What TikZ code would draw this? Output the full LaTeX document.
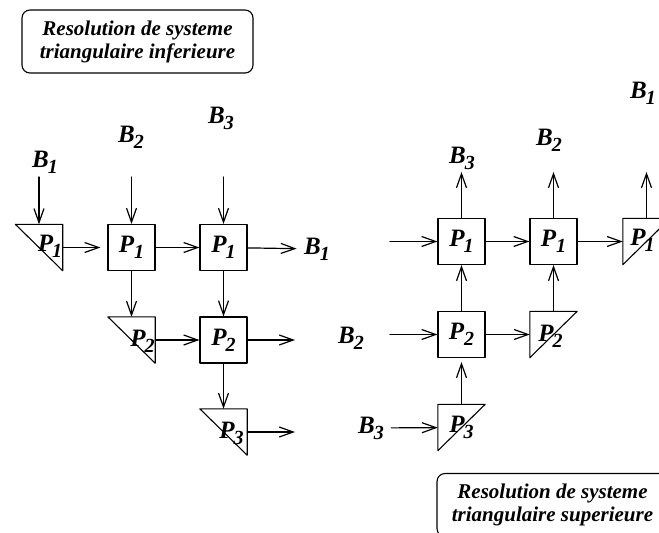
\documentclass[tikz,border=0pt]{standalone}
\usepackage{fontspec}
\setmainfont{Liberation Serif}
\usetikzlibrary{positioning, arrows.meta}

% letter with a large lowered index
\newcommand{\idx}[3][-1pt]{#2\kern#1\raisebox{-6pt}{\fontsize{20}{20}\selectfont #3}}

\begin{document}
\begin{tikzpicture}[x=1pt, y=-1pt, line join=round, line cap=round,
    every node/.style={font=\fontsize{25}{27}\selectfont\bfseries\itshape},
    cell/.style={draw, line width=1.1pt, minimum width=47pt, minimum height=46pt, inner sep=0pt},
    tri/.style={minimum width=47pt, minimum height=46pt, inner sep=0pt},
    flow/.style={line width=1.2pt, -{Straight Barb[length=14pt,width=10pt]}},
    title/.style={draw, line width=1.1pt, rounded corners=8pt, minimum width=231pt,
      minimum height=63pt, align=center, font=\fontsize{21}{23}\selectfont\bfseries\itshape}]

    \useasboundingbox (0,0) rectangle (659,533);
    \clip (0,0) rectangle (659,533);

    % Titles
    \node[title] (tinf) at (137.5,41.5) {Resolution de systeme\\triangulaire inferieure};
    \node[title] (tsup) at (552.5,505) {Resolution de systeme\\triangulaire superieure};

    % Lower system (left)
    \node[tri, label={[xshift=11pt, yshift=1pt]center:\idx{P}{1}}] (t11) at (39,247.5) {};
    \node[cell] (b11) at (131.5,247.5) {\idx[0pt]{P}{1}};
    \node[cell] (b12) at (223.5,247.5) {\idx{P}{1}};
    \node[tri, label={[xshift=11pt, yshift=-1pt]center:\idx{P}{2}}] (t21) at (131.5,340) {};
    \node[cell] (b22) at (223.5,340) {\idx{P}{2}};
    \node[tri, label={[xshift=8pt, yshift=-1pt]center:\idx{P}{3}}] (t31) at (223.5,432) {};

    \foreach \t in {t11,t21,t31}
      \draw[line width=1.1pt] (\t.north west) -- (\t.north east) -- (\t.south east) -- cycle;

    \coordinate (in1) at (39,177);
    \coordinate (in2) at (131.5,177);
    \coordinate (in3) at (223.5,177);
    \node (lb1) at (45,162) {\idx{B}{1}};
    \node (lb2) at (131,137) {\idx{B}{2}};
    \node (lb3) at (221,118) {\idx{B}{3}};
    \node (ob1) at (317,249) {\idx{B}{1}};
    \coordinate (out2) at (295,340);
    \coordinate (out3) at (295,432);

    \draw[flow] (in1) -- (t11);
    \draw[flow] (in2) -- (b11);
    \draw[flow] (in3) -- (b12);
    \draw[flow, shorten >=7pt] (t11) -- (b11);
    \draw[flow] (b11) -- (b12);
    \draw[flow, shorten >=4pt] (b12) -- (ob1);
    \draw[flow] (b11) -- (t21);
    \draw[flow] (b12) -- (b22);
    \draw[flow] (t21) -- (b22);
    \draw[flow] (b22) -- (out2);
    \draw[flow] (b22) -- (t31);
    \draw[flow] (t31) -- (out3);

    % Upper system (right)
    \node[cell] (r11) at (461.5,241.5) {\idx{P}{1}};
    \node[cell] (r12) at (553.5,241.5) {\idx[0pt]{P}{1}};
    \node[tri, label={[xshift=-4pt, yshift=1pt]center:\idx{P}{1}}] (s13) at (646.5,241.5) {};
    \node[cell] (r21) at (461.5,334.5) {\idx[0pt]{P}{2}};
    \node[tri, label={[xshift=-3pt, yshift=-2pt]center:\idx{P}{2}}] (s22) at (553.5,334.5) {};
    \node[tri, label={[xshift=0pt, yshift=0pt]center:\idx{P}{3}}] (s31) at (461.5,427.5) {};

    \foreach \t in {s13,s22,s31}
      \draw[line width=1.1pt] (\t.north west) -- (\t.north east) -- (\t.south west) -- cycle;

    \coordinate (up3) at (461.5,172);
    \coordinate (up2) at (553.5,172);
    \coordinate (up1) at (646.5,172);
    \node (ub3) at (462,158) {\idx{B}{3}};
    \node (ub2) at (549,140) {\idx{B}{2}};
    \node (ub1) at (643,93) {\idx{B}{1}};
    \coordinate (rin1) at (390,241.5);
    \coordinate (rin2) at (390,334.5);
    \node (rb2) at (351,338) {\idx{B}{2}};
    \node (rb3) at (371,428) {\idx{B}{3}};

    \draw[flow] (r11) -- (up3);
    \draw[flow] (r12) -- (up2);
    \draw[flow] (s13) -- (up1);
    \draw[flow] (rin1) -- (r11);
    \draw[flow] (r11) -- (r12);
    \draw[flow] (r12) -- (s13);
    \draw[flow] (rin2) -- (r21);
    \draw[flow] (r21) -- (s22);
    \draw[flow] (r21) -- (r11);
    \draw[flow] (s22) -- (r12);
    \draw[flow, shorten <=4pt] (rb3) -- (s31);
    \draw[flow, shorten >=4pt] (s31) -- (r21);
  \end{tikzpicture}
\end{document}
